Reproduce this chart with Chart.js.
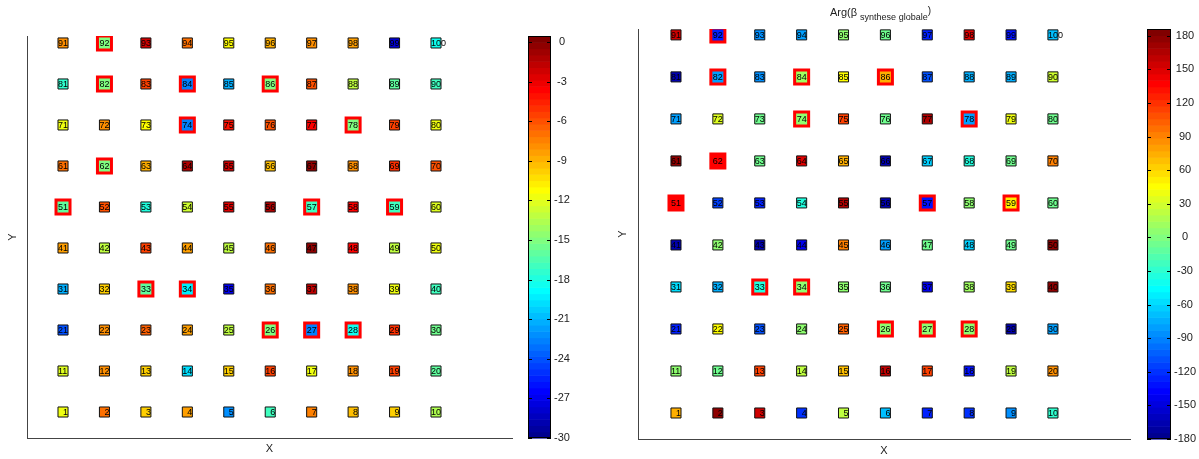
<!DOCTYPE html>
<html lang="fr">
<head>
	<meta charset="UTF-8">
	<title>Carte des cellules</title>
	<style>
		body {
			margin: 0;
			background-color: white;
		}

		.panel {
			position: absolute;
			top: 0;
			height: 459px;
		}

		#panel-left { left: 0; width: 600px; }
		#panel-right { left: 600px; width: 599px; }
	</style>
	<script src="https://cdn.jsdelivr.net/npm/chart.js"></script>
</head>
<body>
<div class="panel" id="panel-left"><canvas id="chart-left" width="600" height="459"></canvas></div>
<div class="panel" id="panel-right"><canvas id="chart-right" width="599" height="459"></canvas></div>
<script>
	// positions de la grille (colonnes X, lignes Y)
	const gridCols = [1, 2, 3, 4, 5, 6, 7, 8, 9, 10];
	const gridRows = [1, 2, 3, 4, 5, 6, 7, 8, 9, 10];

	// cellules entourées en rouge
	const markedCells = [26, 27, 28, 33, 34, 51, 57, 59, 62, 74, 78, 82, 84, 86, 92];

	// valeurs de gauche, cellule 1 à 100
	const leftValues = [
		-11.5, -7, -10, -8.5, -22, -17, -7.5, -9.5, -10, -13.5,
		-12, -8, -10, -20, -10, -5.5, -11.5, -8, -5.5, -16,
		-24, -8, -6.5, -8.5, -13, -15, -22.5, -18.5, -5, -15.5,
		-21, -10, -16, -19.5, -27, -7, -1.5, -8, -11.5, -17,
		-8.5, -13, -5.5, -8.5, -13, -7, -0.5, -3.5, -13, -11.5,
		-16, -6, -18, -12.5, -2.5, -1, -17, -3.5, -17, -12,
		-7, -15, -9, -1, -2, -9.5, -0.5, -8, -5, -6,
		-11.5, -8, -11, -22.5, -4, -6, -3.5, -15, -5.5, -11.5,
		-17.5, -15, -5.5, -22.5, -21, -15, -6, -13, -16, -17,
		-8, -15, -2, -7, -11, -9, -8, -8.5, -28, -18.5
	];
	const leftTicks = [-30, -27, -24, -21, -18, -15, -12, -9, -6, -3, 0];

	// Arg(beta synthese globale), cellule 1 à 100
	const rightValues = [
		76, 178, 157, -118, 21, -70, -125, -118, -88, -26,
		3, -4, 113, 25, 69, 160, 113, -132, 25, 87,
		-125, 47, -107, 3, 102, 3, 3, 3, -168, -81,
		-59, -77, -34, 3, 3, -4, -140, 10, 58, 175,
		-168, 3, -168, -140, 94, -81, -8, -63, -8, 175,
		138, -114, -125, -34, 168, -168, -132, 3, 50, -8,
		175, 138, -4, 150, 76, -168, -63, -34, -8, 94,
		-81, 32, -4, 3, 113, -4, 168, -81, 40, -8,
		-168, -81, -88, 10, 47, 76, -107, -77, -77, 29,
		157, -125, -88, -81, 3, -4, -125, 150, -132, -70
	];
	const rightTicks = [-180, -150, -120, -90, -60, -30, 0, 30, 60, 90, 120, 150, 180];

	Chart.defaults.font.family = '"Liberation Sans", Arial, sans-serif';

	// palette jet de MATLAB, 64 niveaux
	function jetColor(v, cmin, cmax) {
		let k = Math.floor((v - cmin) / (cmax - cmin) * 64);
		k = Math.max(0, Math.min(63, k));
		const t = (k + 1) / 64;
		const f = c => Math.round(255 * Math.max(0, Math.min(1, 1.5 - Math.abs(4 * t - c))));
		return 'rgb(' + f(3) + ',' + f(2) + ',' + f(1) + ')';
	}

	function buildPoints(values) {
		const pts = [];
		gridRows.forEach((r, ri) => {
			gridCols.forEach((c, ci) => {
				const id = ri * gridCols.length + ci + 1;
				pts.push({ x: c, y: r, v: values[id - 1], id: id });
			});
		});
		return pts;
	}

	const cellLabels = {
		id: 'cellLabels',
		afterDatasetsDraw(chart) {
			const ctx = chart.ctx;
			const meta = chart.getDatasetMeta(0);
			const data = chart.data.datasets[0].data;
			ctx.save();
			ctx.font = '9px "Liberation Sans", Arial, sans-serif';
			ctx.fillStyle = '#000';
			ctx.textAlign = 'left';
			ctx.textBaseline = 'middle';
			const dw = ctx.measureText('0').width;
			meta.data.forEach((el, i) => {
				const s = String(data[i].id);
				const x = el.x - dw + (s.length === 1 ? dw : 0);
				ctx.fillText(s, x, el.y + 0.5);
			});
			ctx.restore();
		}
	};

	const colorbar = {
		id: 'colorbar',
		afterDraw(chart, args, opts) {
			const ctx = chart.ctx;
			const cb = chart.scales.cb;
			const x0 = cb.left + opts.offset;
			const w = opts.width;
			const cmin = cb.min, cmax = cb.max;
			ctx.save();
			for (let k = 0; k < 64; k++) {
				const v0 = cmin + (cmax - cmin) * k / 64;
				const v1 = cmin + (cmax - cmin) * (k + 1) / 64;
				const y0 = cb.getPixelForValue(v0);
				const y1 = cb.getPixelForValue(v1);
				ctx.fillStyle = jetColor((v0 + v1) / 2, cmin, cmax);
				ctx.fillRect(x0, y1, w, y0 - y1 + 0.6);
			}
			ctx.strokeStyle = '#000';
			ctx.lineWidth = 1;
			ctx.strokeRect(x0 + 0.5, cb.top + 0.5, w - 1, cb.bottom - cb.top - 1);
			ctx.beginPath();
			cb.ticks.forEach(t => {
				const y = Math.round(cb.getPixelForValue(t.value)) + 0.5;
				ctx.moveTo(x0, y); ctx.lineTo(x0 + 4, y);
				ctx.moveTo(x0 + w - 4, y); ctx.lineTo(x0 + w, y);
			});
			ctx.stroke();
			ctx.restore();
		}
	};

	const subTitle = {
		id: 'subTitle',
		afterDraw(chart, args, opts) {
			if (!opts.display) return;
			const ctx = chart.ctx;
			ctx.save();
			ctx.fillStyle = '#222';
			ctx.textBaseline = 'middle';
			ctx.textAlign = 'left';
			ctx.font = '11px "Liberation Sans", Arial, sans-serif';
			let x = opts.x;
			ctx.fillText(opts.main, x, opts.y);
			x += ctx.measureText(opts.main).width + 3;
			ctx.font = '9px "Liberation Sans", Arial, sans-serif';
			ctx.fillText(opts.sub, x, opts.y + 5);
			x += ctx.measureText(opts.sub).width;
			ctx.font = '10px "Liberation Sans", Arial, sans-serif';
			ctx.fillText(opts.close, x, opts.y - 2);
			ctx.restore();
		}
	};

	// annule le rembourrage ajouté par les étiquettes de l'échelle
	function noScalePadding(s) {
		s.paddingTop = 0;
		s.paddingBottom = 0;
		s.paddingLeft = 0;
		s.paddingRight = 0;
	}

	function createChart(canvasId, p) {
		const ctx = document.getElementById(canvasId).getContext('2d');
		return new Chart(ctx, {
			type: 'scatter',
			data: {
				datasets: [{
					data: buildPoints(p.values),
					pointStyle: 'rect',
					pointRadius: c => markedCells.includes(c.raw.id) ? 9.9 : 7.1,
					borderWidth: c => markedCells.includes(c.raw.id) ? 3 : 1,
					borderColor: c => markedCells.includes(c.raw.id) ? '#ff0000' : '#111',
					backgroundColor: c => jetColor(c.raw.v, p.cmin, p.cmax)
				}]
			},
			options: {
				responsive: false,
				animation: false,
				events: [],
				layout: { autoPadding: false, padding: { top: p.top, left: 0, right: 0, bottom: 0 } },
				plugins: {
					legend: { display: false },
					tooltip: { enabled: false },
					colorbar: { offset: p.cbOffset, width: p.cbWidth },
					subTitle: p.title
				},
				scales: {
					x: {
						type: 'linear',
						position: 'bottom',
						min: p.xMin, max: p.xMax,
						grid: { display: false, drawTicks: false },
						border: { display: true, color: '#444', width: 1 },
						ticks: { display: false },
						title: { display: true, text: 'X', color: '#222', font: { size: 11 }, padding: { top: 0, bottom: p.xTitlePad } },
						afterFit: s => { s.height = p.xHeight; noScalePadding(s); }
					},
					y: {
						type: 'linear',
						position: 'left',
						min: p.yMin, max: p.yMax,
						grid: { display: false, drawTicks: false },
						border: { display: true, color: '#444', width: 1 },
						ticks: { display: false },
						title: { display: true, text: 'Y', color: '#222', font: { size: 11 }, padding: { top: p.yTitlePad, bottom: 0 } },
						afterFit: s => { s.width = p.yWidth; noScalePadding(s); }
					},
					cb: {
						type: 'linear',
						position: 'right',
						min: p.cmin, max: p.cmax,
						grid: { display: false, drawTicks: false },
						border: { display: false },
						ticks: { color: '#222', font: { size: 11 }, padding: p.labelPad, crossAlign: 'center' },
						afterBuildTicks: s => { s.ticks = p.ticks.map(v => ({ value: v })); },
						afterFit: s => { s.width = p.cbAxisWidth; noScalePadding(s); }
					}
				}
			},
			plugins: [cellLabels, colorbar, subTitle]
		});
	}

	createChart('chart-left', {
		values: leftValues, ticks: leftTicks, cmin: -30, cmax: 0.45,
		xMin: 0.131, xMax: 11.834, yMin: 0.366, yMax: 10.17,
		top: 36, xHeight: 21, yWidth: 27, cbAxisWidth: 88,
		xTitlePad: 3, yTitlePad: 6,
		cbOffset: 16, cbWidth: 23, labelPad: 42,
		title: { display: false }
	});

	createChart('chart-right', {
		values: rightValues, ticks: rightTicks, cmin: -180, cmax: 186,
		xMin: 0.093, xMax: 11.84, yMin: 0.381, yMax: 10.14,
		top: 29, xHeight: 20, yWidth: 38, cbAxisWidth: 69,
		xTitlePad: 1.5, yTitlePad: 16,
		cbOffset: 17, cbWidth: 24, labelPad: 44,
		title: { display: true, main: 'Arg(β', sub: 'synthese globale', close: ')', x: 230, y: 13 }
	});
</script>
</body>
</html>
